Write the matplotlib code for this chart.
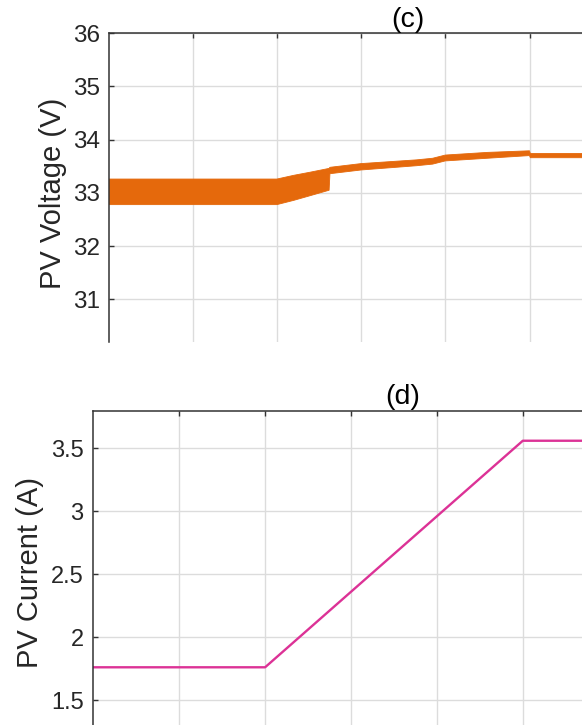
import numpy as np
import matplotlib
matplotlib.use('Agg')
import matplotlib.pyplot as plt

plt.rcParams['font.family'] = ['Liberation Sans', 'DejaVu Sans']

# (c) PV voltage, drawn as the envelope of the ripple band
v_t = [0.0, 2.0, 2.2, 2.4, 2.62, 2.63, 3.0, 3.66, 3.85, 3.9, 4.0, 4.5, 5.0, 5.01, 7.0]
v_hi = [33.26, 33.26, 33.33, 33.39, 33.46, 33.48, 33.55, 33.62, 33.65, 33.67, 33.71, 33.76, 33.79, 33.74, 33.74]
v_lo = [32.78, 32.78, 32.86, 32.95, 33.05, 33.36, 33.43, 33.51, 33.54, 33.56, 33.60, 33.65, 33.70, 33.66, 33.66]
v_ticks = [31, 32, 33, 34, 35, 36]

# (d) PV current
i_t = [0.0, 2.0, 5.0, 7.0]
i_val = [1.762, 1.762, 3.56, 3.56]
i_ticks = [1.5, 2, 2.5, 3, 3.5]
i_ticklabels = ['1.5', '2', '2.5', '3', '3.5']

x_ticks = [1, 2, 3, 4, 5, 6]

W, H = 582, 725
fig = plt.figure(figsize=(W / 100, H / 100), dpi=100)


def px_axes(l, t, r, b):
    return fig.add_axes([l / W, 1 - b / H, (r - l) / W, (b - t) / H])


def style(ax, pad):
    ax.grid(True, color='#dcdcdc', linewidth=1.0)
    ax.set_axisbelow(True)
    for s in ax.spines.values():
        s.set_color('#333333')
        s.set_linewidth(1.1)
    ax.tick_params(direction='in', length=3.6, width=1.0, color='#333333',
                   top=True, right=True, labelsize=17.5, labelcolor='#262626', pad=pad)
    ax.set_xticks(x_ticks)
    ax.set_xticklabels([])
    ax.set_xlim(0, 7)


# top panel
ax1 = px_axes(108.5, 33, 108.5 + 7 * 84.2, 342)
ax1.fill_between(v_t, v_lo, v_hi, color='#e5690c', linewidth=0.6, edgecolor='#e5690c')
style(ax1, 6.4)
ax1.set_ylim(36 - 309 / 53.3, 36)
ax1.set_yticks(v_ticks)
ax1.spines['bottom'].set_visible(False)
ax1.tick_params(bottom=False)
ax1.set_title('(c)', fontsize=20.5, pad=3.5, x=0.508)

# bottom panel
ax2 = px_axes(93.3, 410.5, 93.3 + 7 * 85.9, 410.5 + 2.8 * 126)
ax2.plot(i_t, i_val, color='#dc3296', linewidth=1.7)
style(ax2, 7.0)
ax2.set_ylim(1.0, 3.8)
ax2.set_yticks(i_ticks)
ax2.set_yticklabels(i_ticklabels)
ax2.tick_params(labelsize=17)
ax2.set_title('(d)', fontsize=20.5, pad=4.5, x=0.514)

fig.text(53 / W, 1 - 193 / H, 'PV Voltage (V)', rotation=90, ha='center', va='center',
         fontsize=21, color='#262626')
fig.text(30 / W, 1 - 573 / H, 'PV Current (A)', rotation=90, ha='center', va='center',
         fontsize=21, color='#262626')

fig.savefig('out.png', dpi=100)
